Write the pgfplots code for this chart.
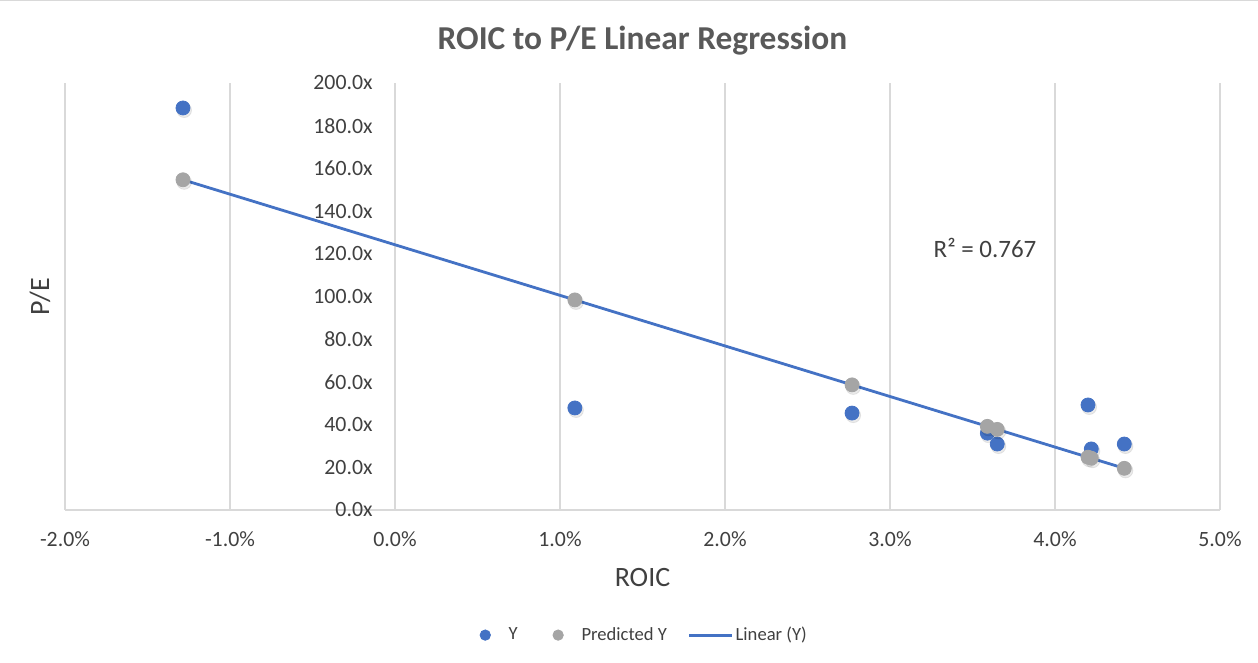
\documentclass[border=0pt]{standalone}
\usepackage{fontspec}
\setmainfont{Carlito}
\usepackage{pgfplots}
\pgfplotsset{compat=1.18}
\definecolor{ybl}{HTML}{4472C4}
\definecolor{pgr}{HTML}{A5A5A5}
\definecolor{grd}{HTML}{D9D9D9}
\definecolor{txt}{HTML}{404040}
\definecolor{ttl}{HTML}{595959}
\pgfplotsset{
  trendleg/.style={legend image code/.code={\draw[##1] (0pt,0pt) -- (21.5pt,0pt);}},
  markleg/.style={legend image code/.code={\path (-9.5pt,0pt) (10.5pt,0pt);\draw[##1, mark size=2.6pt] plot coordinates {(0pt,0pt)};}},
}
\begin{document}
\begin{tikzpicture}
\begin{axis}[name=ax, scale only axis, width=577.5pt, height=213.5pt,
  xmin=-2, xmax=5, ymin=0, ymax=200,
  xtick={-2,-1,0,1,2,3,4,5}, ytick={0,20,40,60,80,100,120,140,160,180,200},
  axis x line=bottom, axis y line=left,
  axis line style={-, draw=grd, line width=0.75pt},
  xmajorgrids, major grid style={draw=grd, line width=0.75pt},
  major tick length=0pt,
  /pgf/number format/assume math mode=true,
  xticklabel={\pgfmathprintnumber[fixed,fixed zerofill,precision=1]{\tick}\%},
  yticklabel={\pgfmathprintnumber[fixed,fixed zerofill,precision=1]{\tick}x},
  ticklabel style={font=\fontsize{10.9}{13}\selectfont, text=txt},
  yticklabel style={anchor=east, xshift=157.3pt},
  xticklabel style={anchor=north, yshift=-7.5pt},
  title={ROIC to P/E Linear Regression},
  title style={font=\bfseries\fontsize{16.7}{20}\selectfont, text=ttl, at={(axis description cs:0.5,1)}, anchor=center, yshift=15pt},
  xlabel={ROIC}, ylabel={P/E},
  every axis x label/.style={at={(axis description cs:0.5,-0.159)}, anchor=center, font=\fontsize{14}{16}\selectfont, text=txt},
  every axis y label/.style={at={(axis description cs:-0.02165,0.5)}, anchor=center, rotate=90, font=\fontsize{14}{16}\selectfont, text=txt},
  legend columns=3,
  legend style={at={(axis description cs:0.4955,-0.293)}, anchor=center, draw=none, fill=none,
    font=\fontsize{9.3}{11}\selectfont, text=txt, nodes={inner xsep=1pt},
    /tikz/every even column/.append style={column sep=9.5pt}},
]
\addplot[only marks, mark=*, mark size=3.7pt, color=black, opacity=0.08, mark options={xshift=0.6pt, yshift=-1.1pt}, forget plot] coordinates {
  (-1.285,188.3) (1.09,47.8) (2.77,45.4) (3.59,36.0) (3.65,30.9) (4.20,49.2) (4.22,28.6) (4.42,30.9)};
\addplot[only marks, mark=*, mark size=3.5pt, color=ybl, markleg] coordinates {
  (-1.285,188.3) (1.09,47.8) (2.77,45.4) (3.59,36.0) (3.65,30.9) (4.20,49.2) (4.22,28.6) (4.42,30.9)};
\addlegendentry{Y}
\addplot[only marks, mark=*, mark size=3.7pt, color=black, opacity=0.08, mark options={xshift=0.6pt, yshift=-1.1pt}, forget plot] coordinates {
  (-1.285,154.67) (1.09,98.41) (2.77,58.61) (3.59,39.18) (3.65,37.76) (4.20,24.73) (4.22,24.26) (4.42,19.52)};
\addplot[only marks, mark=*, mark size=3.5pt, color=pgr, markleg] coordinates {
  (-1.285,154.67) (1.09,98.41) (2.77,58.61) (3.59,39.18) (3.65,37.76) (4.20,24.73) (4.22,24.26) (4.42,19.52)};
\addlegendentry{Predicted Y}
\addplot[color=ybl, line width=1.4pt, trendleg] coordinates {
  (-1.285,154.67) (4.42,19.52)};
\addlegendentry{Linear (Y)}
\node[font=\fontsize{12.5}{14}\selectfont, text=txt] at (axis cs:3.576,122.7) {R² = 0.767};
\end{axis}
\path[use as bounding box] ([xshift=-32.5pt,yshift=-76.5pt]ax.south west) rectangle ([xshift=19pt,yshift=41.5pt]ax.north east);
\draw[grd, line width=1pt] ([xshift=-32.5pt,yshift=41.5pt]ax.north west) -- ([xshift=19pt,yshift=41.5pt]ax.north east);
\end{tikzpicture}
\end{document}
